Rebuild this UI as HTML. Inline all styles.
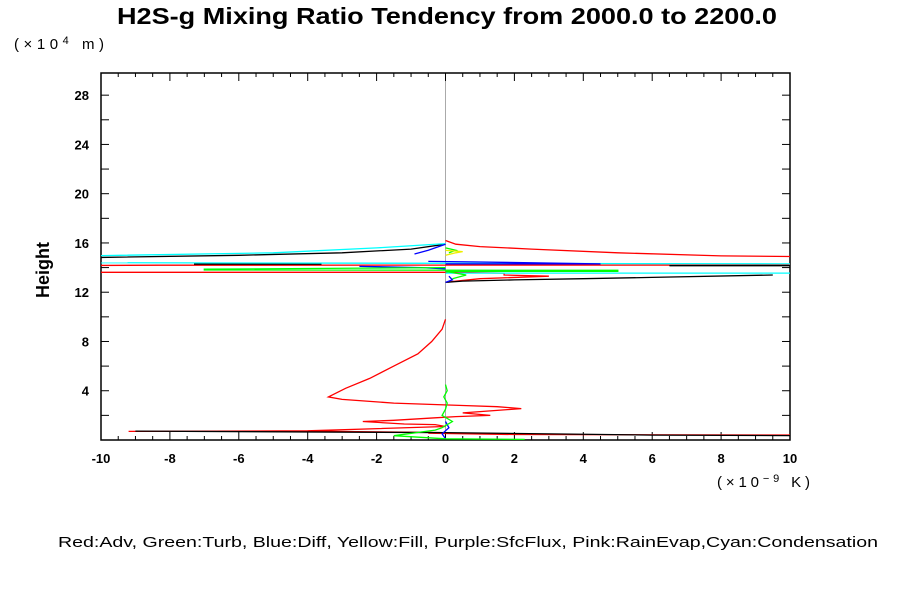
<!DOCTYPE html>
<html><head><meta charset="utf-8"><style>
body{margin:0;background:#fff;width:900px;height:600px;overflow:hidden}
svg text{font-family:"Liberation Sans",Arial,sans-serif}
</style></head><body>
<svg id="chart" width="900" height="600" viewBox="0 0 900 600" xmlns="http://www.w3.org/2000/svg">
<text x="117" y="24" font-size="23" font-weight="bold" textLength="660" lengthAdjust="spacingAndGlyphs">H2S-g Mixing Ratio Tendency from 2000.0 to 2200.0</text>
<text x="14" y="49" font-size="15" textLength="90" lengthAdjust="spacing">(×10<tspan dy="-5" font-size="11">4</tspan><tspan dy="5">  m)</tspan></text>
<text transform="translate(49,270) rotate(-90)" font-size="18" font-weight="bold" text-anchor="middle">Height</text>
<text x="717" y="487" font-size="15" textLength="93" lengthAdjust="spacing">(×10<tspan dy="-5" font-size="11">−9</tspan><tspan dy="5">  K)</tspan></text>
<text x="58" y="547" font-size="15" textLength="820" lengthAdjust="spacingAndGlyphs">Red:Adv, Green:Turb, Blue:Diff, Yellow:Fill, Purple:SfcFlux, Pink:RainEvap,Cyan:Condensation</text>
<defs><clipPath id="pc"><rect x="101" y="73" width="689" height="367"/></clipPath></defs>
<g id="axes"></g>
<g id="series" clip-path="url(#pc)"></g>
</svg>
<script>
const xMin=-10,xMax=10,yMin=0,yMax=29.8;
const xTickLabels=[-10,-8,-6,-4,-2,0,2,4,6,8,10];
const yTickLabels=[4,8,12,16,20,24,28];
const redSeg1=[[0,16.2],[0.3,15.9],[1,15.7],[2.5,15.5],[5,15.2],[8,14.95],[12,14.85],[12,14.2],[4.5,14.2],[0,14.2],[-8.3,14.19],[-12,14.15],[-12,13.62],[0,13.62],[1.7,13.55],[1.7,13.4],[3,13.3],[1,13.1],[0.3,12.9],[0,12.8]];
const redSeg2=[[0,9.8],[-0.1,9],[-0.4,8],[-0.8,7],[-1.5,6],[-2.2,5],[-2.9,4.2],[-3.4,3.5],[-3,3.3],[-1.5,3],[0.5,2.8],[1.5,2.7],[2.2,2.55],[1.5,2.4],[0.5,2.2],[1.3,2.0],[0.3,1.9],[-0.3,1.8],[-1.5,1.6],[-2.4,1.5],[-1.2,1.3],[-0.3,1.25],[0,1.1],[-4,0.75],[-9.2,0.7],[-4,0.72],[0,0.6],[-0.5,0.55],[2,0.45],[10.5,0.4],[10.5,0.3]];
const blackSeg1=[[0,15.9],[-1,15.5],[-3,15.2],[-6,15.0],[-10.5,14.8]];
const blackSeg2=[[-7.3,14.28],[-3.6,14.28]];
const blackSeg3=[[6.5,14.15],[10.5,14.15]];
const blackSeg4=[[0,12.8],[0.5,12.9],[2,13.0],[4,13.1],[6,13.2],[9.5,13.4]];
const blackSeg5=[[-9,0.72],[0,0.6],[6,0.4],[10.5,0.35]];
const cyanSeg1=[[0,15.95],[-2,15.6],[-5,15.2],[-10.5,14.95]];
const cyanSeg2=[[-10.5,14.4],[10.5,14.3]];
const cyanSeg3=[[0,13.55],[10.5,13.55]];
const blueSeg1=[[0,15.9],[-0.5,15.4],[-0.9,15.1]];
const blueSeg2=[[-0.5,14.5],[1,14.45],[4.5,14.3],[0,14.3]];
const blueSeg3=[[-2.5,14.1],[-0.7,14.0],[0,13.9]];
const blueSeg4=[[0,12.8],[0.2,13.0],[0.1,13.3]];
const blueSeg5=[[0,1.5],[0.1,1.0],[-0.1,0.5],[0,0.1]];
const greenSeg1=[[0,15.6],[0.3,15.4],[0.1,15.2]];
const greenSeg2=[[0,14.0],[-7,13.87],[-7,13.8],[5,13.78],[5,13.7],[0,13.7],[0.6,13.4],[0.2,13.1]];
const greenSeg3=[[0,4.5],[0.05,4],[-0.05,3.5],[0.05,3],[0,2.5],[-0.1,2],[0.2,1.5],[-0.1,1],[-0.3,0.8],[-1.5,0.35],[0,0.1],[2.3,0.05]];
const yellowSeg1=[[0,15.0],[0.3,15.2],[0.5,15.3],[0,15.4]];
const series=[["red","#f00",[redSeg1,redSeg2]],["black","#000",[blackSeg1,blackSeg2,blackSeg3,blackSeg4,blackSeg5]],["cyan","#0ff",[cyanSeg1,cyanSeg2,cyanSeg3]],["blue","#00f",[blueSeg1,blueSeg2,blueSeg3,blueSeg4,blueSeg5]],["green","#0f0",[greenSeg1,greenSeg2,greenSeg3]],["yellow","#ee0",[yellowSeg1]]];
const L=101,R=790,T=73,B=440;
function sx(v){return L+(v-xMin)/(xMax-xMin)*(R-L);}
function sy(v){return B-(v-yMin)/(yMax-yMin)*(B-T);}
const NS="http://www.w3.org/2000/svg";
const ax=document.getElementById('axes');
function mk(p,tag,attrs){const e=document.createElementNS(NS,tag);for(const k in attrs)e.setAttribute(k,attrs[k]);p.appendChild(e);return e;}
const zl=mk(ax,'line',{x1:sx(0),x2:sx(0),y1:T,y2:B,stroke:'#aaa','stroke-width':1});


const fr=mk(ax,'rect',{x:L,y:T,width:R-L,height:B-T,fill:'none',stroke:'#000','stroke-width':1.5});


for(let v=xMin;v<=xMax+1e-9;v+=0.5){const x=sx(v);const major=Math.abs(v-Math.round(v/2)*2)<1e-9;const len=major?8:4;
 mk(ax,'line',{x1:x,x2:x,y1:B,y2:B-len,stroke:'#000'});mk(ax,'line',{x1:x,x2:x,y1:T,y2:T+len,stroke:'#000'});}
for(let v=0;v<=yMax;v+=2){const y=sy(v);const len=8;
 mk(ax,'line',{x1:L,x2:L+len,y1:y,y2:y,stroke:'#000'});mk(ax,'line',{x1:R,x2:R-len,y1:y,y2:y,stroke:'#000'});}
xTickLabels.forEach(v=>{const t=mk(ax,'text',{x:sx(v),y:B+23,'font-size':13,'font-weight':'bold','text-anchor':'middle'});t.textContent=v;
 
 });
yTickLabels.forEach(v=>{const t=mk(ax,'text',{x:L-12,y:sy(v)+5,'font-size':13,'font-weight':'bold','text-anchor':'end'});t.textContent=v;
 
 });
const sg=document.getElementById('series');
series.forEach(([name,col,segs])=>{segs.forEach(seg=>{
 const p=mk(sg,'polyline',{points:seg.map(d=>sx(d[0]).toFixed(1)+','+sy(d[1]).toFixed(1)).join(' '),fill:'none',stroke:col,'stroke-width':1.3});
 
 });});
</script>
</body></html>
